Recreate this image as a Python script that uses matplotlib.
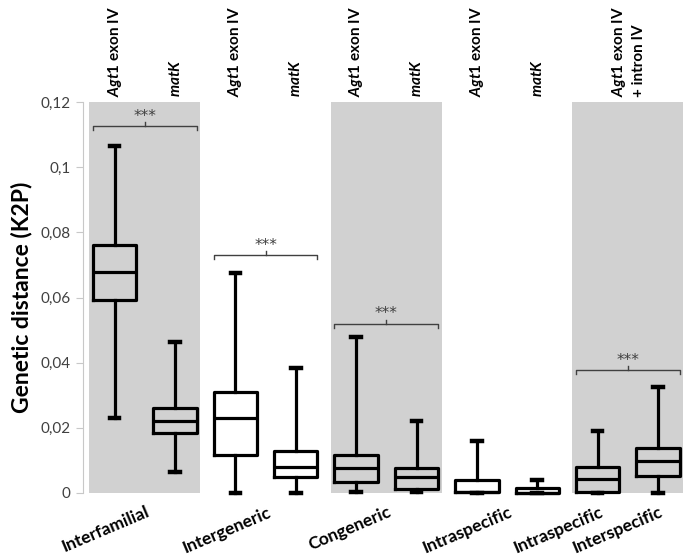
import matplotlib
matplotlib.use('Agg')
import matplotlib.pyplot as plt
import matplotlib.transforms as mtransforms

plt.rcParams['font.family'] = ['Lato', 'DejaVu Sans']
plt.rcParams['mathtext.fontset'] = 'custom'
plt.rcParams['mathtext.it'] = 'Lato:italic:bold'
plt.rcParams['mathtext.rm'] = 'Lato:bold'

# box statistics (whisker low, q1, median, q3, whisker high)
positions = [1, 2, 3, 4, 5, 6, 7, 8, 9, 10]
whislo = [0.023, 0.0064, 0.0, 0.0, 0.0003, 0.0003, 0.0, 0.0, 0.0, 0.0]
q1 = [0.0592, 0.0184, 0.0117, 0.005, 0.0034, 0.0012, 0.0003, 0.0001, 0.0003, 0.0052]
med = [0.0678, 0.0221, 0.023, 0.008, 0.0077, 0.005, 0.0003, 0.0001, 0.0043, 0.0098]
q3 = [0.0761, 0.026, 0.031, 0.0129, 0.0117, 0.0077, 0.004, 0.0016, 0.008, 0.0138]
whishi = [0.1064, 0.0463, 0.0675, 0.0383, 0.0479, 0.022, 0.016, 0.004, 0.019, 0.0325]

top_labels = [r'$\mathit{Agt1}$ exon IV', r'$\mathit{matK}$'] * 4
top_pos = [1, 2, 3, 4, 5, 6, 7, 8]
top_label_last = '$\\mathit{Agt1}$ exon IV\n+ intron IV'

bottom_labels = ['Interfamilial', 'Intergeneric', 'Congeneric', 'Intraspecific',
                 'Intraspecific', 'Interspecific']
bottom_pos = [1.5, 3.5, 5.5, 7.5, 9, 10]

shaded = [1.5, 5.5, 9.5]
sig_groups = [(1, 2), (3, 4), (5, 6), (9, 10)]
sig_height = [0.1126, 0.073, 0.052, 0.0377]

yticks = [0, 0.02, 0.04, 0.06, 0.08, 0.1, 0.12]
yticklabels = ['0', '0,02', '0,04', '0,06', '0,08', '0,1', '0,12']

fig = plt.figure(figsize=(6.85, 5.59), dpi=100)
ax = fig.add_axes([83 / 685, 66 / 559, 602 / 685, 391 / 559])

for c in shaded:
    ax.axvspan(c - 0.92, c + 0.92, ymin=0, ymax=1, color='#d1d1d1', lw=0, zorder=0)

stats = []
for i in range(len(positions)):
    stats.append(dict(whislo=whislo[i], q1=q1[i], med=med[i], q3=q3[i],
                      whishi=whishi[i], fliers=[]))

lw = 2.3
arts = ax.bxp(stats, positions=positions, widths=0.72, capwidths=0.16,
              showfliers=False,
              boxprops=dict(color='black', lw=lw),
              medianprops=dict(color='black', lw=lw),
              whiskerprops=dict(color='black', lw=lw),
              capprops=dict(color='black', lw=3.2))
for key in arts:
    for a in arts[key]:
        a.set_clip_on(False)
        a.set_zorder(3)

# significance brackets
gray = '#404040'
for (a, b), h in zip(sig_groups, sig_height):
    x0, x1 = a - 0.36, b + 0.36
    xm = (a + b) / 2
    ax.plot([x0, x0, x1, x1], [h - 0.0013, h, h, h - 0.0013], color=gray, lw=1.0, zorder=3)
    ax.plot([xm, xm], [h, h + 0.0012], color=gray, lw=1.0, zorder=3)
    ax.text(xm, h + 0.0008, '***', ha='center', va='bottom', fontsize=11,
            color=gray, family='DejaVu Sans')

ax.set_xlim(0.476, 10.447)
ax.set_ylim(0, 0.12)
ax.set_yticks(yticks)
ax.set_yticklabels(yticklabels, fontsize=11, color='#404040')
ax.set_xticks([])
for s in ['top', 'right', 'bottom']:
    ax.spines[s].set_visible(False)
ax.spines['left'].set_color('#c8c8c8')
ax.tick_params(axis='y', color='#c8c8c8', length=5, pad=4)
ax.set_ylabel('Genetic distance (K2P)', fontsize=16.5, fontweight='bold', labelpad=6)

trans = mtransforms.blended_transform_factory(ax.transData, ax.transAxes)
for x, t in zip(top_pos, top_labels):
    ax.text(x, 1.012, t, transform=trans, rotation=90, ha='center', va='bottom',
            fontsize=11, fontweight='bold')
ax.text(9.5, 1.012, top_label_last, transform=trans, rotation=90, ha='center', va='bottom',
        fontsize=11, fontweight='bold', multialignment='left', linespacing=1.35)

for x, t in zip(bottom_pos, bottom_labels):
    ax.text(x + 0.02, -0.028, t, transform=trans, rotation=23, rotation_mode='anchor',
            ha='right', va='top', fontsize=12.5, fontweight='bold')

fig.savefig('out.png', dpi=100)
